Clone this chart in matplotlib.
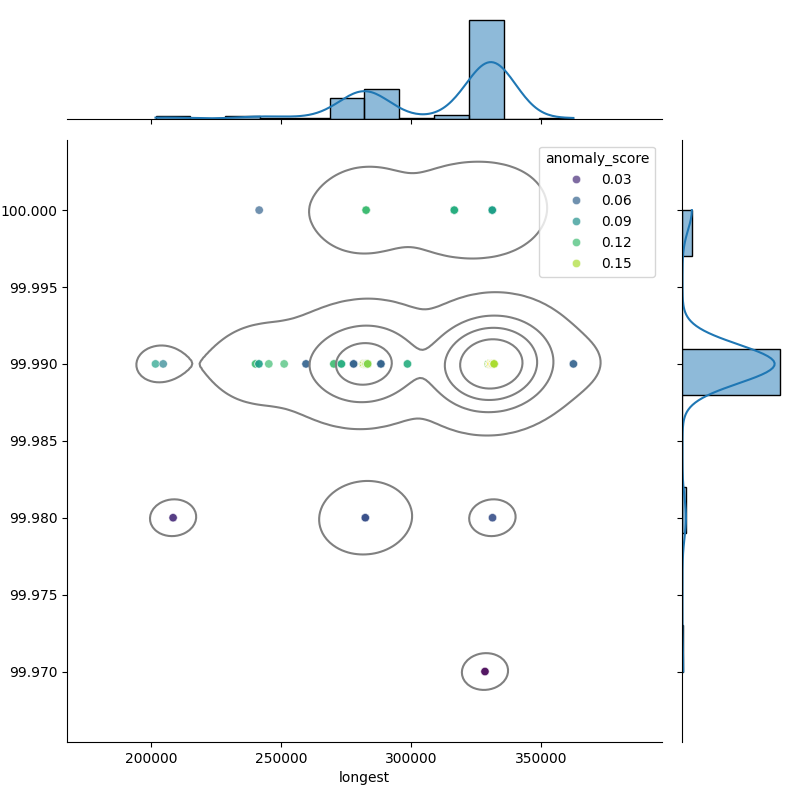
import numpy as np
import pandas as pd
import matplotlib
matplotlib.use("Agg")
import matplotlib.pyplot as plt
import seaborn as sns

# unique observations (x, y, anomaly score) and how many times each occurs
longest = [201640, 204600, 240100, 241400, 245200, 251100, 259500, 270200, 273100,
           277800, 281400, 281700, 282300, 282700, 283200, 288300, 298500,
           329600, 330200, 330700, 331200, 331800, 362300,
           241500, 282600, 316500, 331100,
           208400, 282300, 331200,
           328300]
uptime = [99.99] * 23 + [100.0] * 4 + [99.98] * 3 + [99.97]
anomaly = [0.10, 0.08, 0.12, 0.10, 0.12, 0.12, 0.06, 0.12, 0.11,
           0.06, 0.14, 0.15, 0.16, 0.15, 0.14, 0.06, 0.11,
           0.14, 0.15, 0.17, 0.16, 0.15, 0.06,
           0.06, 0.12, 0.11, 0.10,
           0.03, 0.05, 0.05,
           0.01]
counts = [1, 1, 2, 2, 1, 1, 2, 2, 3,
          3, 10, 16, 12, 14, 7, 3, 2,
          20, 30, 40, 35, 26, 2,
          1, 8, 7, 8,
          2, 5, 2,
          2]

df = pd.DataFrame({
    "longest": np.repeat(longest, counts),
    "uptime": np.repeat(uptime, counts),
    "anomaly_score": np.repeat(anomaly, counts),
})

g = sns.JointGrid(data=df, x="longest", y="uptime", height=8)
sns.scatterplot(data=df, x="longest", y="uptime", hue="anomaly_score",
                palette="viridis", alpha=0.7, ax=g.ax_joint)
sns.kdeplot(data=df, x="longest", y="uptime", levels=5, color="gray", ax=g.ax_joint)
sns.histplot(data=df, x="longest", bins=12, kde=True, ax=g.ax_marg_x)
sns.histplot(data=df, y="uptime", bins=10, kde=True, ax=g.ax_marg_y)
g.ax_joint.set_ylabel("")
g.figure.subplots_adjust(left=67 / 800, right=785 / 800, top=1 - 15 / 800,
                         bottom=1 - 742 / 800, hspace=0.2, wspace=0.2)
g.figure.savefig("out.png", dpi=100)
